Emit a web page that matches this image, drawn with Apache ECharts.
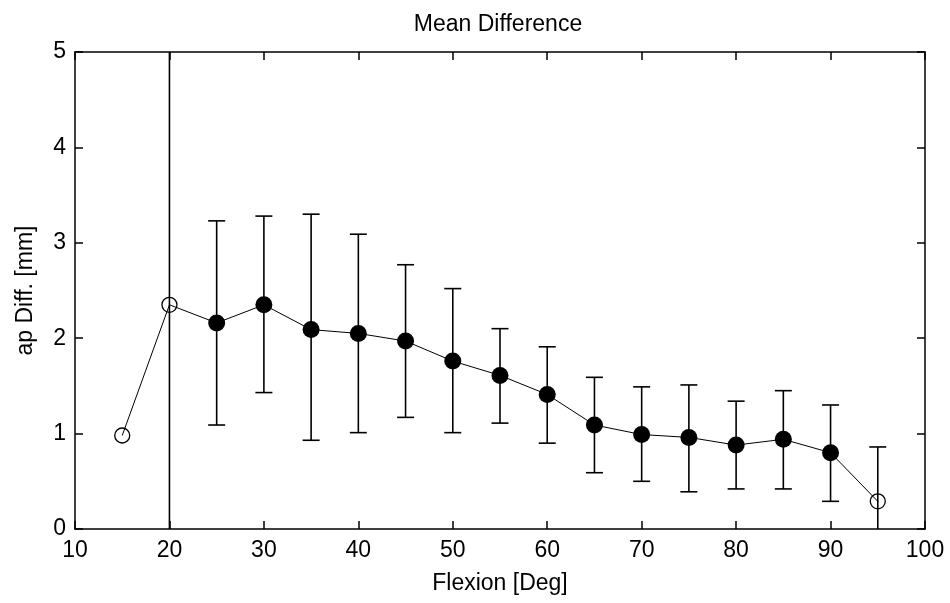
<!DOCTYPE html>
<html><head><meta charset="utf-8">
<script src="https://cdn.jsdelivr.net/npm/echarts@6/dist/echarts.min.js"></script>
<style>html,body{margin:0;padding:0;background:#fff}#c{width:950px;height:603px}</style>
</head><body><div id="c"></div>
<script>
const flexion  = [15, 20, 25, 30, 35, 40, 45, 50, 55, 60, 65, 70, 75, 80, 85, 90, 95];
const meanDiff = [0.98, 2.35, 2.16, 2.35, 2.09, 2.05, 1.97, 1.76, 1.61, 1.41, 1.09, 0.99, 0.96, 0.88, 0.94, 0.80, 0.29];
const errLow   = [null, -0.65, 1.09, 1.43, 0.93, 1.01, 1.17, 1.01, 1.11, 0.90, 0.59, 0.50, 0.39, 0.42, 0.42, 0.29, -0.28];
const errHigh  = [null, 5.35, 3.23, 3.28, 3.30, 3.09, 2.77, 2.52, 2.10, 1.91, 1.59, 1.49, 1.51, 1.34, 1.45, 1.30, 0.86];
const filled   = [false, false, true, true, true, true, true, true, true, true, true, true, true, true, true, true, false];
const xTicks = {min: 10, max: 100, interval: 10};
const yTicks = {min: 0, max: 5, interval: 1};

const FONT = "'Liberation Sans', Arial, sans-serif";
const FS = 23;
const chart = echarts.init(document.getElementById('c'), null, {renderer: 'canvas'});

const lineData = flexion.map((x, i) => [x, meanDiff[i]]);
const filledData = lineData.filter((d, i) => filled[i]);
const openData = lineData.filter((d, i) => !filled[i]);
const errData = flexion.map((x, i) => [x, errLow[i], errHigh[i]]).filter(d => d[1] !== null);

const axisCommon = {
  axisLine: {show: true, onZero: false, lineStyle: {color: '#000', width: 1.5}},
  axisTick: {show: true, inside: true, length: 8, lineStyle: {color: '#000', width: 1.5}},
  splitLine: {show: false},
  axisLabel: {color: '#000', fontSize: FS, fontFamily: FONT},
  nameTextStyle: {color: '#000', fontSize: FS, fontFamily: FONT}
};

chart.setOption({
  backgroundColor: '#fff',
  animation: false,
  title: {
    text: 'Mean Difference', left: 493, top: 8, textAlign: 'center',
    textStyle: {color: '#000', fontSize: FS, fontWeight: 'normal', fontFamily: FONT}
  },
  grid: {left: 75, right: 25, top: 52, bottom: 74, containLabel: false},
  xAxis: [
    Object.assign({}, axisCommon, {
      type: 'value', position: 'bottom', min: xTicks.min, max: xTicks.max, interval: xTicks.interval,
      name: 'Flexion [Deg]', nameLocation: 'middle', nameGap: 43,
      axisLabel: Object.assign({}, axisCommon.axisLabel, {margin: 10})
    }),
    Object.assign({}, axisCommon, {
      type: 'value', position: 'top', min: xTicks.min, max: xTicks.max, interval: xTicks.interval,
      axisLabel: {show: false}
    })
  ],
  yAxis: [
    Object.assign({}, axisCommon, {
      type: 'value', position: 'left', min: yTicks.min, max: yTicks.max, interval: yTicks.interval,
      name: 'ap Diff. [mm]', nameLocation: 'middle', nameGap: 38,
      axisLabel: Object.assign({}, axisCommon.axisLabel, {margin: 9})
    }),
    Object.assign({}, axisCommon, {
      type: 'value', position: 'right', min: yTicks.min, max: yTicks.max, interval: yTicks.interval,
      axisLabel: {show: false}
    })
  ],
  series: [
    {
      type: 'line', data: lineData, symbol: 'none', z: 2,
      lineStyle: {color: '#000', width: 1}
    },
    {
      type: 'custom', data: errData, z: 3,
      renderItem: function (params, api) {
        const x = api.value(0), lo = api.value(1), hi = api.value(2);
        const loC = Math.max(lo, yTicks.min), hiC = Math.min(hi, yTicks.max);
        const pLo = api.coord([x, loC]), pHi = api.coord([x, hiC]);
        const half = 8.5;
        const st = {stroke: '#000', lineWidth: 1.6};
        const ch = [{type: 'line', shape: {x1: pLo[0], y1: pLo[1], x2: pHi[0], y2: pHi[1]}, style: st}];
        if (hi <= yTicks.max) ch.push({type: 'line', shape: {x1: pHi[0] - half, y1: pHi[1], x2: pHi[0] + half, y2: pHi[1]}, style: st});
        if (lo >= yTicks.min) ch.push({type: 'line', shape: {x1: pLo[0] - half, y1: pLo[1], x2: pLo[0] + half, y2: pLo[1]}, style: st});
        return {type: 'group', children: ch};
      }
    },
    {
      type: 'scatter', data: filledData, symbol: 'circle', symbolSize: 17, z: 4,
      itemStyle: {color: '#000', opacity: 1}
    },
    {
      type: 'scatter', data: openData, symbol: 'circle', symbolSize: 15, z: 4,
      itemStyle: {color: 'rgba(0,0,0,0)', borderColor: '#000', borderWidth: 1.3, opacity: 1}
    }
  ]
});
</script></body></html>
